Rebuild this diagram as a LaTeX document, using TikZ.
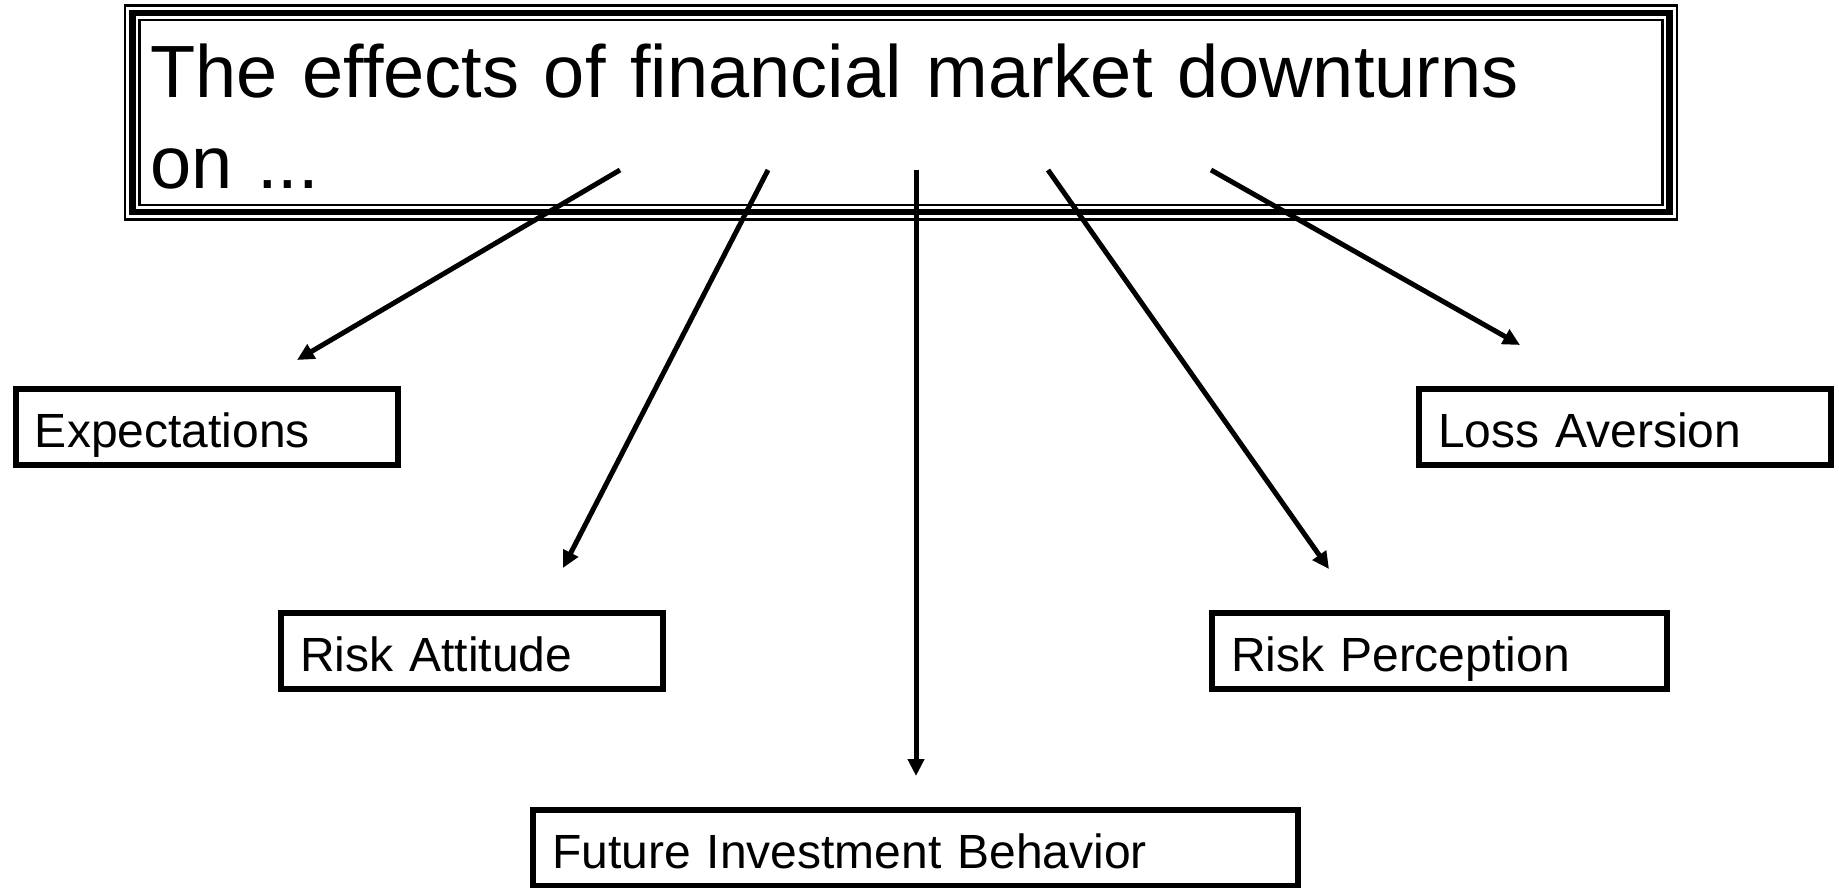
\documentclass[tikz,border=0pt]{standalone}
\usepackage{fontspec}
\setmainfont{Liberation Sans}
\usetikzlibrary{arrows.meta}
\tikzset{
  titleframe/.style={draw=black,line width=6.5bp,
    preaction={draw=black,line width=2.5bp,double=white,double distance=12bp},
    minimum width=1537bp,minimum height=199bp,inner xsep=18bp,inner ysep=0bp,
    text width=1501bp,align=left,text height=0bp,text depth=31bp,
    font=\fontsize{74bp}{91bp}\selectfont},
  factorbox/.style={draw=black,line width=5.5bp,minimum height=76bp,
    inner xsep=19bp,inner ysep=0bp,align=left,text height=40bp,text depth=0bp,
    font=\fontsize{48bp}{58bp}\selectfont},
  effectarrow/.style={-{Triangle[length=17bp,width=16bp]},line width=5bp},
}

\begin{document}
\begin{tikzpicture}[x=1bp,y=-1bp]
  \useasboundingbox (0,0) rectangle (1839,888);
  \node[titleframe] (title) at (901,112.5)
    {The effects of financial market downturns\\on ...};
  \node[factorbox,minimum width=382bp,text width=344bp] (expect) at (207,427) {Expectations};
  \node[factorbox,minimum width=382bp,text width=344bp] (attitude) at (472,651) {Risk Attitude};
  \node[factorbox,minimum width=765bp,text width=727bp] (behavior) at (915.5,848) {Future Investment Behavior};
  \node[factorbox,minimum width=455bp,text width=417bp] (perception) at (1439.5,651) {Risk Perception};
  \node[factorbox,minimum width=412bp,text width=374bp] (loss) at (1625,427) {Loss Aversion};
  % arrow ends inside the title frame and just above each box
  \coordinate (s1) at (620,170);  \coordinate (t1) at (297,360);
  \coordinate (s2) at (768,170);  \coordinate (t2) at (563,568);
  \coordinate (s3) at (916,170);  \coordinate (t3) at (916,776);
  \coordinate (s4) at (1048,170); \coordinate (t4) at (1329,569);
  \coordinate (s5) at (1211,170); \coordinate (t5) at (1520,345);
  \draw[effectarrow] (s1) -- (t1);
  \draw[effectarrow] (s2) -- (t2);
  \draw[effectarrow] (s3) -- (t3);
  \draw[effectarrow] (s4) -- (t4);
  \draw[effectarrow] (s5) -- (t5);
\end{tikzpicture}
\end{document}
